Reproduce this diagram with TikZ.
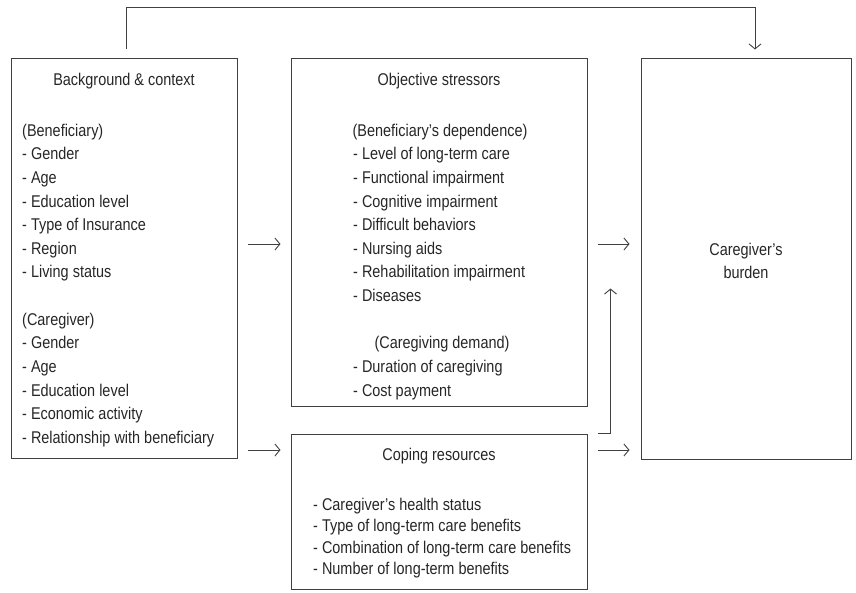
\documentclass[tikz,border=0pt]{standalone}
\usepackage{fontspec}
\setmainfont{Liberation Sans}[FakeStretch=0.85]
\usetikzlibrary{arrows.meta}
\tikzset{
  box/.style={draw=black!75, line width=1pt, inner sep=0pt},
  txt/.style={text=black!85, inner sep=0pt, font=\fontsize{17}{20}\selectfont},
  item/.style={txt, anchor=base west},
  head/.style={txt, anchor=base},
  arr/.style={draw=black!75, line width=0.9pt, -{Straight Barb[length=5pt,width=12pt]}}
}
\begin{document}
\begin{tikzpicture}[x=1pt,y=-1pt]
    \useasboundingbox (0,0) rectangle (856,592);
    % boxes
    \node[box, minimum width=226pt, minimum height=400pt] (bg) at (124,258) {};
    \node[box, minimum width=296pt, minimum height=348pt] (obj) at (439,232) {};
    \node[box, minimum width=296pt, minimum height=155pt] (cope) at (439,511.5) {};
    \node[box, minimum width=210pt, minimum height=401pt] (burden) at (746,258.5) {};
    % background & context
    \node[head] (bgtitle) at (124,85) {Background \& context};
    \node[item] (bgb0) at (22,136) {(Beneficiary)};
    \node[item] (bgb1) at (22,159.7) {- Gender};
    \node[item] (bgb2) at (22,183.3) {- Age};
    \node[item] (bgb3) at (22,207) {- Education level};
    \node[item] (bgb4) at (22,230.6) {- Type of Insurance};
    \node[item] (bgb5) at (22,254.3) {- Region};
    \node[item] (bgb6) at (22,277.9) {- Living status};
    \node[item] (bgc0) at (22,325.2) {(Caregiver)};
    \node[item] (bgc1) at (22,348.9) {- Gender};
    \node[item] (bgc2) at (22,372.5) {- Age};
    \node[item] (bgc3) at (22,396.2) {- Education level};
    \node[item] (bgc4) at (22,419.8) {- Economic activity};
    \node[item] (bgc5) at (22,443.5) {- Relationship with beneficiary};
    % objective stressors
    \node[head] (objtitle) at (439,85) {Objective stressors};
    \node[head] (objd0) at (440,136) {(Beneficiary’s dependence)};
    \node[item] (objd1) at (353,159.7) {- Level of long-term care};
    \node[item] (objd2) at (353,183.3) {- Functional impairment};
    \node[item] (objd3) at (353,207) {- Cognitive impairment};
    \node[item] (objd4) at (353,230.6) {- Difficult behaviors};
    \node[item] (objd5) at (353,254.3) {- Nursing aids};
    \node[item] (objd6) at (353,277.9) {- Rehabilitation impairment};
    \node[item] (objd7) at (353,301.6) {- Diseases};
    \node[head] (objc0) at (442,348.9) {(Caregiving demand)};
    \node[item] (objc1) at (353,372.5) {- Duration of caregiving};
    \node[item] (objc2) at (353,396.2) {- Cost payment};
    % coping resources
    \node[head] (copetitle) at (439,460) {Coping resources};
    \node[item] (cope1) at (313,510) {- Caregiver’s health status};
    \node[item] (cope2) at (313,531.5) {- Type of long-term care benefits};
    \node[item] (cope3) at (313,553) {- Combination of long-term care benefits};
    \node[item] (cope4) at (313,574.5) {- Number of long-term benefits};
    % caregiver's burden
    \node[head] (burden1) at (746,255) {Caregiver’s};
    \node[head] (burden2) at (746,278) {burden};
    % connectors
    \coordinate (lvlA) at (0,244);
    \coordinate (lvlB) at (0,450);
    \draw[arr] ([xshift=10pt]bg.east |- lvlA) -- ([xshift=-10pt]obj.west |- lvlA);
    \draw[arr] ([xshift=10pt]bg.east |- lvlB) -- ([xshift=-10pt]cope.west |- lvlB);
    \draw[arr] ([xshift=10pt]obj.east |- lvlA) -- ([xshift=-11pt]burden.west |- lvlA);
    \draw[arr] ([xshift=10pt]cope.east |- lvlB) -- ([xshift=-11pt]burden.west |- lvlB);
    \draw[arr] ([xshift=10pt]cope.north east) -- ++(13,0) -- ++(0,-145);
    \draw[arr] ([xshift=2pt,yshift=9pt]bg.north) -- ++(0,-41) -| ([xshift=9pt,yshift=8pt]burden.north);
\end{tikzpicture}
\end{document}
